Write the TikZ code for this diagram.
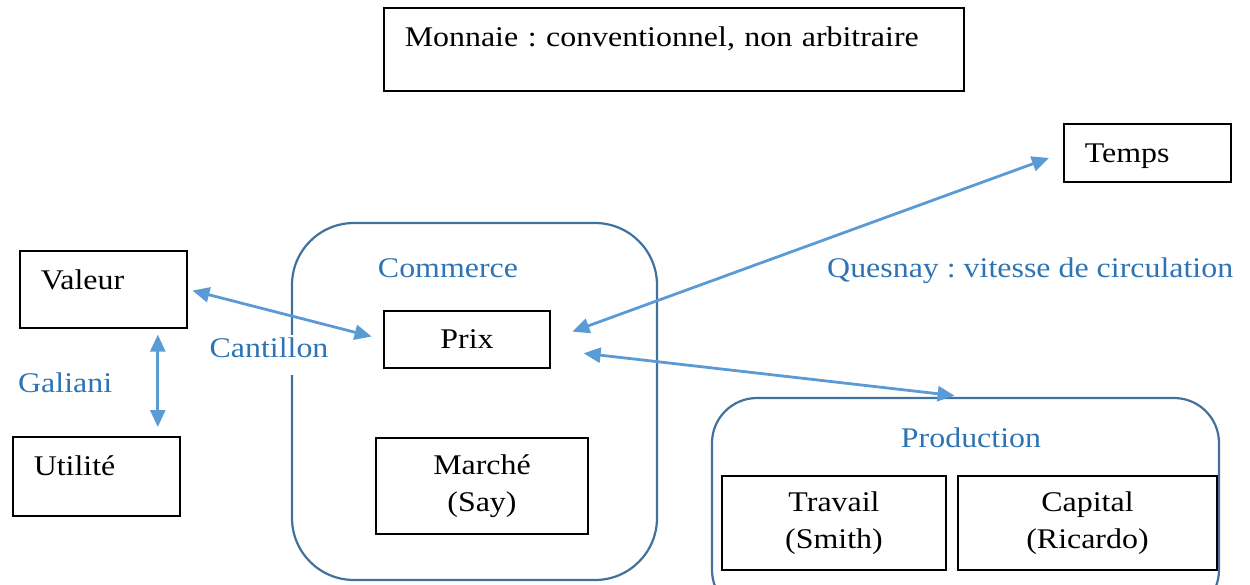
\documentclass[tikz,border=0pt]{standalone}
\usepackage{xcolor}
\usepackage{tikz}
\usepackage{fontspec}
\setmainfont{Liberation Serif}[FakeStretch=1.12]
\usetikzlibrary{arrows.meta, positioning}
\definecolor{boxblue}{HTML}{41719C}
\definecolor{labelblue}{HTML}{2E74B5}
\definecolor{arrowblue}{HTML}{5B9BD5}
\frenchspacing
\begin{document}
\begin{tikzpicture}[x=1pt,y=-1pt,font=\fontsize{28.5}{37}\selectfont]
        \useasboundingbox (0,0) rectangle (1250,584);
        % groupes arrondis
        \begin{scope}[every node/.style={draw=boxblue,line width=2.2pt,rounded corners=62pt}]
          \node[minimum width=365,minimum height=357] (commerce) at (474.5,401.5) {};
          \node[rounded corners=45pt,minimum width=507,minimum height=217] (prod) at (965.5,506.5) {};
        \end{scope}
        \begin{scope}[every node/.style={text=labelblue,inner sep=0pt}]
          \node[anchor=base] (commercelbl) at (448,277) {Commerce};
          \node[anchor=base] (prodlbl) at (971,447) {Production};
          \node[anchor=base west] (galiani) at (18,392) {Galiani};
          \node[anchor=base west] (quesnay) at (827,277) {Quesnay : vitesse de circulation};
          \node[anchor=base,fill=white,inner xsep=4pt,text height=22pt,text depth=18pt] (cantillon) at (269,357) {Cantillon};
        \end{scope}
        % boites avec texte en haut a gauche
        \begin{scope}[every node/.style={draw,line width=1.6pt,anchor=north west,align=left,inner xsep=21pt,inner ysep=0pt,text height=39pt}]
          \node[text width=538,text depth=44pt] (monnaie) at (383,7) {Monnaie : conventionnel, non arbitraire};
          \node[text width=125,text depth=19pt] (temps) at (1063,123) {Temps};
          \node[text width=125,text depth=38pt] (valeur) at (19,250) {Valeur};
          \node[text width=125,text depth=40pt] (utilite) at (12,436) {Utilité};
        \end{scope}
        \begin{scope}[every node/.style={draw,line width=1.6pt,align=center}]
          \node[minimum width=166,minimum height=57] (prix) at (467,339.5) {Prix};
          \node[minimum width=212,minimum height=96] (marche) at (482,486) {Marché\\(Say)};
          \node[minimum width=224,minimum height=94] (travail) at (834,523) {Travail\\(Smith)};
          \node[minimum width=259,minimum height=94] (capital) at (1087.5,523) {Capital\\(Ricardo)};
        \end{scope}
        \begin{scope}[every edge/.style={draw=arrowblue,line width=2.8pt,{Triangle[length=17pt,width=15pt]}-{Triangle[length=17pt,width=15pt]}}]
          \path (valeur.east) edge[shorten <=5pt,shorten >=12pt] (prix.west);
          \path ([xshift=54.5]valeur.south) edge[shorten <=6pt,shorten >=9pt] ([xshift=61.5]utilite.north);
          \path (prix.east) edge[shorten <=23pt,shorten >=15pt] (temps.west);
          \path ([yshift=-10]prix.east) edge[shorten <=33pt,shorten >=11pt] (prod.north);
        \end{scope}
      \end{tikzpicture}
\end{document}
